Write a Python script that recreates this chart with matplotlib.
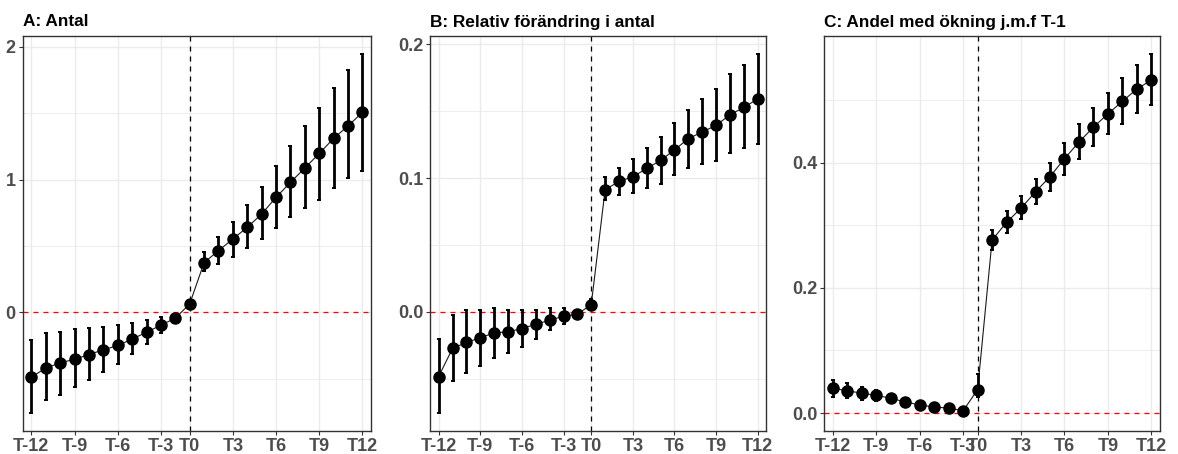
import numpy as np
import matplotlib.pyplot as plt

plt.rcParams['font.family'] = ['Liberation Sans', 'DejaVu Sans']

# event time labels; T-1 is the reference period (and T-2 too in panel C)
labels_ab = ['T-12', 'T-11', 'T-10', 'T-9', 'T-8', 'T-7', 'T-6', 'T-5', 'T-4', 'T-3', 'T-2',
             'T0', 'T1', 'T2', 'T3', 'T4', 'T5', 'T6', 'T7', 'T8', 'T9', 'T10', 'T11', 'T12']
labels_c = ['T-12', 'T-11', 'T-10', 'T-9', 'T-8', 'T-7', 'T-6', 'T-5', 'T-4', 'T-3',
            'T0', 'T1', 'T2', 'T3', 'T4', 'T5', 'T6', 'T7', 'T8', 'T9', 'T10', 'T11', 'T12']
shown_ticks = ['T-12', 'T-9', 'T-6', 'T-3', 'T0', 'T3', 'T6', 'T9', 'T12']

# A: Antal
est_a = [-0.489, -0.422, -0.381, -0.356, -0.319, -0.284, -0.251, -0.203, -0.151, -0.098, -0.045,
         0.063, 0.374, 0.464, 0.552, 0.640, 0.740, 0.866, 0.979, 1.087, 1.197, 1.310, 1.405, 1.506]
lo_a = [-0.760, -0.665, -0.622, -0.565, -0.514, -0.452, -0.389, -0.316, -0.238, -0.158, -0.060,
        0.045, 0.314, 0.364, 0.419, 0.482, 0.552, 0.632, 0.715, 0.785, 0.846, 0.933, 1.009, 1.066]
hi_a = [-0.208, -0.156, -0.146, -0.130, -0.120, -0.110, -0.100, -0.083, -0.058, -0.040, -0.030,
        0.081, 0.452, 0.565, 0.683, 0.808, 0.941, 1.104, 1.255, 1.405, 1.538, 1.689, 1.824, 1.950]

# B: Relativ förändring i antal
est_b = [-0.0483, -0.0273, -0.0228, -0.0193, -0.0156, -0.0149, -0.0124, -0.0092, -0.0062, -0.0032, -0.0017,
         0.0055, 0.0914, 0.0976, 0.1011, 0.1073, 0.1133, 0.1212, 0.1296, 0.1346, 0.1395, 0.1475, 0.1529, 0.1594]
lo_b = [-0.0756, -0.0520, -0.0454, -0.0401, -0.0347, -0.0310, -0.0260, -0.0206, -0.0136, -0.0092, -0.0042,
        0.0012, 0.0835, 0.0872, 0.0892, 0.0924, 0.0959, 0.1021, 0.1078, 0.1103, 0.1128, 0.1190, 0.1227, 0.1257]
hi_b = [-0.0206, -0.0020, 0.0012, 0.0012, 0.0032, 0.0012, 0.0012, 0.0012, 0.0032, 0.0032, 0.0012,
        0.0099, 0.1009, 0.1078, 0.1140, 0.1227, 0.1306, 0.1413, 0.1512, 0.1594, 0.1668, 0.1777, 0.1846, 0.1926]

# C: Andel med ökning j.m.f T-1
est_c = [0.0397, 0.0355, 0.0318, 0.0281, 0.0238, 0.0175, 0.0132, 0.0095, 0.0080, 0.0037,
         0.0375, 0.2766, 0.3046, 0.3274, 0.3534, 0.3777, 0.4064, 0.4328, 0.4567, 0.4779, 0.4980, 0.5176, 0.5319]
lo_c = [0.026, 0.024, 0.021, 0.020, 0.017, 0.012, 0.009, 0.006, 0.005, 0.001,
        0.026, 0.261, 0.287, 0.310, 0.334, 0.355, 0.381, 0.406, 0.426, 0.446, 0.462, 0.479, 0.492]
hi_c = [0.053, 0.048, 0.042, 0.037, 0.030, 0.023, 0.017, 0.013, 0.011, 0.007,
        0.062, 0.292, 0.322, 0.347, 0.3735, 0.400, 0.432, 0.462, 0.488, 0.511, 0.535, 0.556, 0.573]

panels = [
    ('A: Antal', labels_ab, est_a, lo_a, hi_a, [0, 1, 2], ['0', '1', '2'], [-0.5, 0.5, 1.5]),
    ('B: Relativ förändring i antal', labels_ab, est_b, lo_b, hi_b,
     [0.0, 0.1, 0.2], ['0.0', '0.1', '0.2'], [-0.05, 0.05, 0.15]),
    ('C: Andel med ökning j.m.f T-1', labels_c, est_c, lo_c, hi_c,
     [0.0, 0.2, 0.4], ['0.0', '0.2', '0.4'], [0.1, 0.3, 0.5]),
]

fig = plt.figure(figsize=(11.78, 4.54), dpi=100)
boxes = [[0.0193, 0.0507, 0.2957, 0.871],
         [0.3653, 0.0507, 0.2850, 0.869],
         [0.6997, 0.0507, 0.2850, 0.869]]

for box, (title, labs, est, lo, hi, yt, ytl, ymin) in zip(boxes, panels):
    ax = fig.add_axes(box)
    est = np.array(est)
    lo = np.array(lo)
    hi = np.array(hi)
    x = np.arange(len(labs))
    t0 = labs.index('T0')

    ax.set_axisbelow(True)
    ax.set_yticks(ymin, minor=True)
    ax.grid(True, which='major', color='#EBEBEB', lw=1.0)
    ax.grid(True, which='minor', axis='y', color='#EBEBEB', lw=0.6)
    ax.tick_params(axis='both', which='minor', length=0)

    ax.axhline(0, color='red', ls=(0, (4, 4)), lw=0.9, zorder=1)
    ax.axvline(t0, color='black', ls=(0, (4, 4)), lw=0.9, zorder=1)

    ax.plot(x, est, color='#1a1a1a', lw=0.8, zorder=2)
    ax.errorbar(x, est, yerr=[est - lo, hi - est], fmt='none', ecolor='black',
                elinewidth=2.0, capsize=1.6, capthick=1.4, zorder=3)
    ax.plot(x, est, 'o', color='black', ms=8, zorder=4)

    ticks = [labs.index(t) for t in shown_ticks]
    ax.set_xticks(ticks)
    ax.set_xticklabels(shown_ticks)
    ax.set_yticks(yt)
    ax.set_yticklabels(ytl)

    ax.set_xlim(-0.6, len(labs) - 0.4)
    ymin_d = min(lo.min(), 0)
    ymax_d = hi.max()
    pad = 0.05 * (ymax_d - ymin_d)
    ax.set_ylim(ymin_d - pad, ymax_d + pad)

    for s in ax.spines.values():
        s.set_color('#333333')
        s.set_linewidth(1.0)
    ax.tick_params(axis='both', which='major', length=3, width=0.8, color='#333333',
                   labelcolor='#4D4D4D', labelsize=13, pad=2)
    for lab in ax.get_xticklabels() + ax.get_yticklabels():
        lab.set_fontweight('bold')

    ax.set_title(title, loc='left', fontsize=12.4, fontweight='bold', pad=7)

fig.savefig('out.png', dpi=100)
